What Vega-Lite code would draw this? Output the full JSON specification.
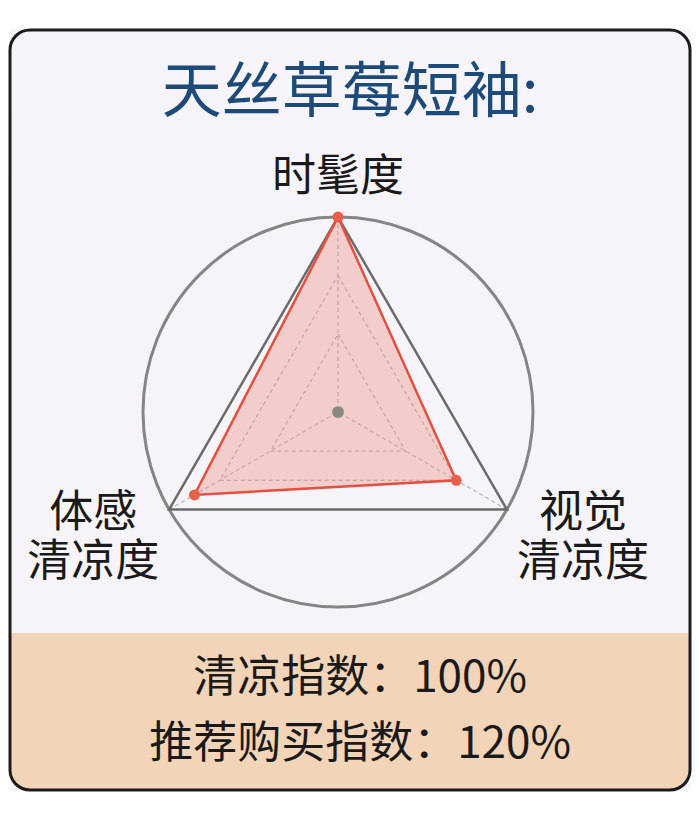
{
  "$schema": "https://vega.github.io/schema/vega-lite/v6.json",
  "autosize": "none",
  "width": 680,
  "height": 760,
  "padding": {"left": 10, "top": 30, "right": 9, "bottom": 27},
  "background": "#ffffff",
  "title": {
    "text": "天丝草莓短袖:",
    "font": "Noto Sans CJK SC",
    "fontSize": 60,
    "fontWeight": "normal",
    "color": "#1d4a78",
    "anchor": "middle",
    "baseline": "middle",
    "offset": -125
  },
  "datasets": {
    "scores": [
      {"axis": "时髦度", "label": "时髦度", "angle": 0, "value": 1.0},
      {"axis": "视觉清凉度", "label": "视觉\n清凉度", "angle": 120, "value": 0.7},
      {"axis": "体感清凉度", "label": "体感\n清凉度", "angle": 240, "value": 0.85}
    ],
    "grid": [
      {"level": 0.4, "angle": 0},
      {"level": 0.4, "angle": 120},
      {"level": 0.4, "angle": 240},
      {"level": 0.7, "angle": 0},
      {"level": 0.7, "angle": 120},
      {"level": 0.7, "angle": 240},
      {"level": 1.0, "angle": 0},
      {"level": 1.0, "angle": 120},
      {"level": 1.0, "angle": 240}
    ],
    "summary": [
      {"text": "清凉指数：100%\n推荐购买指数：120%"}
    ]
  },
  "layer": [
    {
      "data": {"values": [{"part": "footer"}]},
      "mark": {"type": "rect", "fill": "#f2d4b9", "cornerRadiusBottomLeft": 20, "cornerRadiusBottomRight": 20},
      "encoding": {
        "x": {"datum": -1.682, "type": "quantitative", "scale": {"domain": [-1.682, 1.805], "nice": false, "zero": false}},
        "x2": {"datum": 1.805},
        "y": {"datum": -1.133, "type": "quantitative", "scale": {"domain": [-1.938, 1.959], "nice": false, "zero": false}},
        "y2": {"datum": -1.938}
      }
    },
    {
      "data": {"values": [{"part": "ring"}]},
      "mark": {"type": "point", "shape": "circle", "filled": false, "size": 152100, "stroke": "#858585", "strokeWidth": 3, "opacity": 1},
      "encoding": {
        "x": {"datum": 0, "type": "quantitative", "scale": {"domain": [-1.682, 1.805], "nice": false, "zero": false}},
        "y": {"datum": 0, "type": "quantitative", "scale": {"domain": [-1.938, 1.959], "nice": false, "zero": false}}
      }
    },
    {
      "data": {"name": "grid"},
      "transform": [
        {"filter": "datum.level < 1"},
        {"calculate": "datum.level * sin(datum.angle * PI / 180)", "as": "gx"},
        {"calculate": "datum.level * cos(datum.angle * PI / 180)", "as": "gy"}
      ],
      "mark": {"type": "line", "interpolate": "linear-closed", "stroke": "#b3b3b3", "strokeWidth": 1.2, "strokeDash": [4, 3]},
      "encoding": {
        "x": {"field": "gx", "type": "quantitative", "scale": {"domain": [-1.682, 1.805], "nice": false, "zero": false}},
        "y": {"field": "gy", "type": "quantitative", "scale": {"domain": [-1.938, 1.959], "nice": false, "zero": false}},
        "detail": {"field": "level", "type": "nominal"},
        "order": {"field": "angle", "type": "quantitative"}
      }
    },
    {
      "data": {"name": "grid"},
      "transform": [
        {"filter": "datum.level == 1"},
        {"calculate": "sin(datum.angle * PI / 180)", "as": "gx"},
        {"calculate": "cos(datum.angle * PI / 180)", "as": "gy"}
      ],
      "mark": {"type": "rule", "stroke": "#b3b3b3", "strokeWidth": 1.2, "strokeDash": [4, 3]},
      "encoding": {
        "x": {"field": "gx", "type": "quantitative", "scale": {"domain": [-1.682, 1.805], "nice": false, "zero": false}},
        "y": {"field": "gy", "type": "quantitative", "scale": {"domain": [-1.938, 1.959], "nice": false, "zero": false}},
        "x2": {"datum": 0},
        "y2": {"datum": 0}
      }
    },
    {
      "data": {"name": "grid"},
      "transform": [
        {"filter": "datum.level == 1"},
        {"calculate": "sin(datum.angle * PI / 180)", "as": "gx"},
        {"calculate": "cos(datum.angle * PI / 180)", "as": "gy"}
      ],
      "mark": {"type": "line", "interpolate": "linear-closed", "stroke": "#6b6b6b", "strokeWidth": 2.5},
      "encoding": {
        "x": {"field": "gx", "type": "quantitative", "scale": {"domain": [-1.682, 1.805], "nice": false, "zero": false}},
        "y": {"field": "gy", "type": "quantitative", "scale": {"domain": [-1.938, 1.959], "nice": false, "zero": false}},
        "order": {"field": "angle", "type": "quantitative"}
      }
    },
    {
      "data": {"name": "scores"},
      "transform": [
        {"calculate": "datum.value * sin(datum.angle * PI / 180)", "as": "px"},
        {"calculate": "datum.value * cos(datum.angle * PI / 180)", "as": "py"}
      ],
      "mark": {"type": "line", "interpolate": "linear-closed", "fill": "#f08d80", "fillOpacity": 0.38, "stroke": "#e4503f", "strokeWidth": 2.5},
      "encoding": {
        "x": {"field": "px", "type": "quantitative", "scale": {"domain": [-1.682, 1.805], "nice": false, "zero": false}},
        "y": {"field": "py", "type": "quantitative", "scale": {"domain": [-1.938, 1.959], "nice": false, "zero": false}},
        "order": {"field": "angle", "type": "quantitative"}
      }
    },
    {
      "data": {"name": "scores"},
      "transform": [
        {"calculate": "datum.value * sin(datum.angle * PI / 180)", "as": "px"},
        {"calculate": "datum.value * cos(datum.angle * PI / 180)", "as": "py"}
      ],
      "mark": {"type": "point", "shape": "circle", "filled": true, "size": 120, "color": "#e8604a", "opacity": 1},
      "encoding": {
        "x": {"field": "px", "type": "quantitative", "scale": {"domain": [-1.682, 1.805], "nice": false, "zero": false}},
        "y": {"field": "py", "type": "quantitative", "scale": {"domain": [-1.938, 1.959], "nice": false, "zero": false}}
      }
    },
    {
      "data": {"values": [{"part": "centre"}]},
      "mark": {"type": "point", "shape": "circle", "filled": true, "size": 140, "color": "#8a8a84", "opacity": 1},
      "encoding": {
        "x": {"datum": 0, "type": "quantitative", "scale": {"domain": [-1.682, 1.805], "nice": false, "zero": false}},
        "y": {"datum": 0, "type": "quantitative", "scale": {"domain": [-1.938, 1.959], "nice": false, "zero": false}}
      }
    },
    {
      "data": {"name": "scores"},
      "transform": [
        {"calculate": "1.45 * sin(datum.angle * PI / 180)", "as": "lx"},
        {"calculate": "0.051 + 1.149 * cos(datum.angle * PI / 180)", "as": "ly"}
      ],
      "mark": {"type": "text", "font": "Noto Sans CJK SC", "fontSize": 44, "color": "#1a1a1a", "align": "center", "baseline": "middle", "lineBreak": "\n", "lineHeight": 49},
      "encoding": {
        "x": {"field": "lx", "type": "quantitative", "scale": {"domain": [-1.682, 1.805], "nice": false, "zero": false}},
        "y": {"field": "ly", "type": "quantitative", "scale": {"domain": [-1.938, 1.959], "nice": false, "zero": false}},
        "text": {"field": "label"}
      }
    },
    {
      "data": {"name": "summary"},
      "mark": {"type": "text", "font": "Noto Sans CJK SC", "fontSize": 44, "color": "#1a1a1a", "align": "center", "baseline": "middle", "lineBreak": "\n", "lineHeight": 66},
      "encoding": {
        "x": {"datum": 0.113, "type": "quantitative", "scale": {"domain": [-1.682, 1.805], "nice": false, "zero": false}},
        "y": {"datum": -1.369, "type": "quantitative", "scale": {"domain": [-1.938, 1.959], "nice": false, "zero": false}},
        "text": {"field": "text"}
      }
    },
    {
      "data": {"values": [{"part": "border"}]},
      "mark": {"type": "rect", "fill": "#ffffff", "fillOpacity": 0, "stroke": "#1c1c1c", "strokeWidth": 3, "cornerRadius": 20},
      "encoding": {
        "x": {"datum": -1.682, "type": "quantitative", "scale": {"domain": [-1.682, 1.805], "nice": false, "zero": false}},
        "x2": {"datum": 1.805},
        "y": {"datum": 1.959, "type": "quantitative", "scale": {"domain": [-1.938, 1.959], "nice": false, "zero": false}},
        "y2": {"datum": -1.938}
      }
    }
  ],
  "config": {
    "view": {"fill": "#f6f4f8", "stroke": null},
    "axis": {"disable": true},
    "font": "Noto Sans CJK SC"
  }
}
